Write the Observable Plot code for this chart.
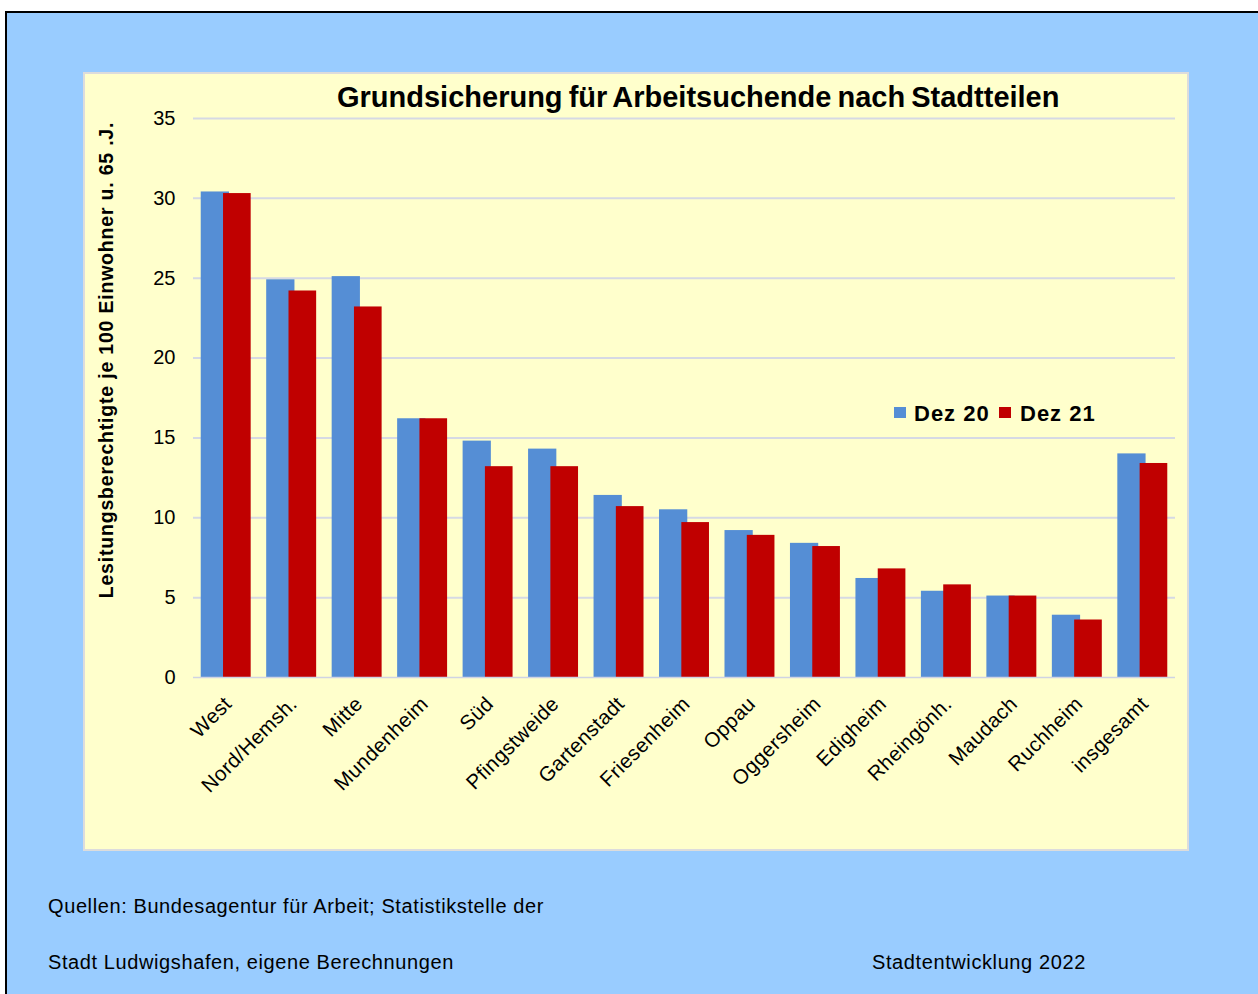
<!DOCTYPE html>
<html>
<head>
<meta charset="utf-8">
<script src="https://cdn.jsdelivr.net/npm/d3@7"></script>
<script src="https://cdn.jsdelivr.net/npm/@observablehq/plot@0.6"></script>
<style>
  html, body { margin: 0; padding: 0; background: #ffffff; }
  #page { position: relative; width: 1258px; height: 994px; overflow: hidden; font-family: "Liberation Sans", Arial, sans-serif; color: #000; }
  #bg { position: absolute; left: 5px; top: 11px; right: 0; bottom: 0; background: #99CCFF; border-top: 2px solid #000; border-left: 2px solid #000; }
  #panel { position: absolute; left: 83px; top: 72px; width: 1106px; height: 779px; box-sizing: border-box; background: #FFFFCC; border: 2px solid #dcdcdc; }
  #chart { position: absolute; left: 83px; top: 72px; }
  .t { position: absolute; white-space: nowrap; line-height: 1; }
  .sq { position: absolute; }
</style>
</head>
<body>
<div id="page">
  <div id="bg"></div>
  <div id="panel"></div>
  <div id="chart"></div>
</div>
<script>
const categories = ["West", "Nord/Hemsh.", "Mitte", "Mundenheim", "Süd", "Pfingstweide", "Gartenstadt", "Friesenheim", "Oppau", "Oggersheim", "Edigheim", "Rheingönh.", "Maudach", "Ruchheim", "insgesamt"];
const dez20 = [30.4, 24.9, 25.1, 16.2, 14.8, 14.3, 11.4, 10.5, 9.2, 8.4, 6.2, 5.4, 5.1, 3.9, 14.0];
const dez21 = [30.3, 24.2, 23.2, 16.2, 13.2, 13.2, 10.7, 9.7, 8.9, 8.2, 6.8, 5.8, 5.1, 3.6, 13.4];
const yTicks = [0, 5, 10, 15, 20, 25, 30, 35];
const seriesNames = ["Dez 20", "Dez 21"];
const seriesColors = ["#558ED5", "#C00000"];
const titleText = "Grundsicherung für Arbeitsuchende nach Stadtteilen";
const yLabelText = "Lesitungsberechtigte  je  100  Einwohner  u.  65  .J.";
const captionLines = ["Quellen: Bundesagentur für Arbeit; Statistikstelle der", "Stadt Ludwigshafen, eigene Berechnungen"];
const creditText = "Stadtentwicklung 2022";

const rows20 = categories.map((c, i) => ({c, v: dez20[i]}));
const rows21 = categories.map((c, i) => ({c, v: dez21[i]}));
const FONT = "'Liberation Sans', Arial, sans-serif";

const chart = Plot.plot({
  width: 1106,
  height: 779,
  marginLeft: 110,
  marginRight: 14,
  marginTop: 46,
  marginBottom: 174,
  style: {background: "transparent", fontFamily: FONT, color: "#000", overflow: "visible"},
  x: {type: "band", domain: categories, paddingInner: 0.237, paddingOuter: 0.118, round: false, axis: null},
  y: {domain: [0, 35], axis: null},
  marks: [
    Plot.ruleY(yTicks.filter(t => t > 0), {stroke: "#d6d9e4", strokeWidth: 2}),
    Plot.barY(rows20, {x: "c", y: "v", fill: seriesColors[0], insetRight: 21.7}),
    Plot.barY(rows21, {x: "c", y: "v", fill: seriesColors[1], insetLeft: 22.3}),
    Plot.ruleY([0], {stroke: "#cfd3e3", strokeWidth: 1.5}),
    Plot.axisY({ticks: yTicks, tickSize: 0, tickPadding: 18, fontSize: 20, label: null, tickFormat: d => String(d)}),
    Plot.text(categories, {x: d => d, frameAnchor: "bottom", dy: 23, dx: 2, rotate: -45, textAnchor: "end", lineAnchor: "middle", fontSize: 20.5, fill: "#000", className: "xlab"})
  ]
});
d3.select(chart).selectAll(".xlab text").style("letter-spacing", "0.4px");
document.getElementById("chart").appendChild(chart);

const page = document.getElementById("page");
function addText(txt, left, baseline, size, weight, extra) {
  const d = document.createElement("div");
  d.className = "t";
  d.textContent = txt;
  d.style.left = left + "px";
  d.style.top = (baseline - 0.8465 * size) + "px";
  d.style.fontSize = size + "px";
  d.style.fontWeight = weight;
  if (extra) Object.assign(d.style, extra);
  page.appendChild(d);
  return d;
}
// title
addText(titleText, 337, 108, 29, "bold", {wordSpacing: "-2px"});
// y label
const yl = document.createElement("div");
yl.className = "t";
yl.textContent = yLabelText;
Object.assign(yl.style, {left: "107px", top: "360px", fontSize: "19.5px", fontWeight: "bold", letterSpacing: "0.8px", transform: "translate(-50%, -50%) rotate(-90deg)"});
page.appendChild(yl);
// legend
const legendX = [894, 999];
const legendTextX = [914, 1020];
seriesNames.forEach((name, i) => {
  const s = document.createElement("div");
  s.className = "sq";
  Object.assign(s.style, {left: legendX[i] + "px", top: "407px", width: "12px", height: "11px", background: seriesColors[i]});
  page.appendChild(s);
  addText(name, legendTextX[i], 422, 22, "bold", {letterSpacing: "1px"});
});
// captions
const capStyle = {letterSpacing: "0.6px"};
addText(captionLines[0], 48, 913, 20, "normal", capStyle);
addText(captionLines[1], 48, 969, 20, "normal", capStyle);
addText(creditText, 872, 969, 20, "normal", capStyle);
</script>
</body>
</html>
